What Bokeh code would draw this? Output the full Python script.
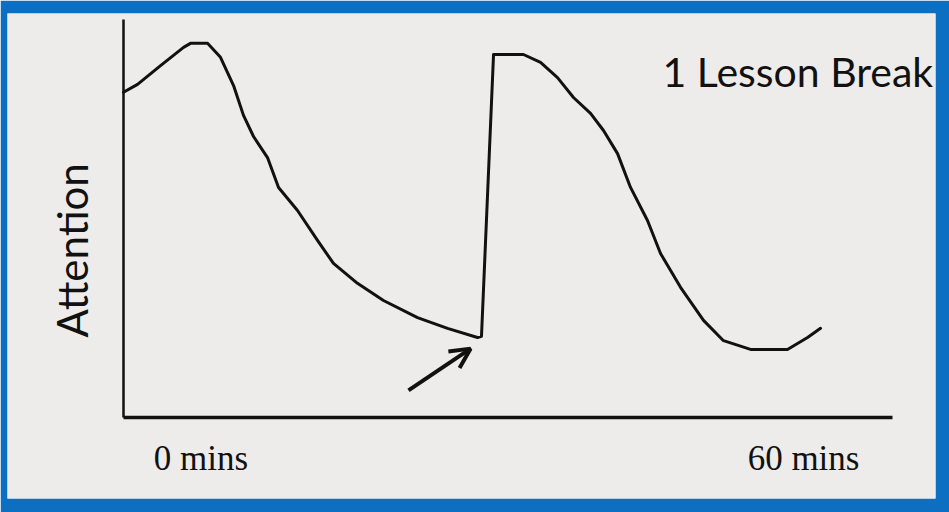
from bokeh.plotting import figure
from bokeh.models import (ColumnDataSource, Range1d, LinearAxis, FixedTicker,
                          Label, Arrow, OpenHead)
from bokeh.embed import file_html
from bokeh.resources import INLINE

# ---- data ----
minutes = [-7.72, -6.32, -4.03, -1.74, -1.05, 0.65, 1.94, 3.24, 4.23, 5.23,
           6.62, 7.72, 9.61, 11.60, 13.19, 15.58, 18.17, 21.56, 24.55, 27.53,
           27.93, 29.13, 32.11, 33.81, 35.50, 37.09, 38.79, 40.08, 41.48, 42.77,
           44.46, 45.76, 47.75, 50.04, 52.03, 54.72, 58.40, 60.40, 61.69]
attention = [81.7, 83.7, 88.4, 93.0, 94.0, 94.0, 90.5, 83.4, 75.9, 70.6,
             65.3, 57.8, 52.0, 44.5, 38.7, 33.7, 29.4, 25.1, 22.4, 20.1,
             20.4, 91.2, 91.2, 89.2, 85.4, 80.4, 76.4, 72.1, 66.3, 57.8,
             49.5, 41.2, 32.7, 24.4, 19.3, 17.1, 17.1, 20.1, 22.4]
tick_values = [0, 60]
tick_labels = ["0 mins", "60 mins"]
x_bounds = (-7.72, 68.86)
y_bounds = (0, 100)
y_label = "Attention"
title_text = "1 Lesson Break"
arrow_tail = [20.66, 6.8]
arrow_head = [26.84, 17.3]

BG = "#eeecea"
BLUE = "#0c6fc2"
INK = "#111111"

W, H = 949, 512
p = figure(width=W, height=H, output_backend="svg", toolbar_location=None,
           x_range=Range1d(-19.27, 73.14), y_range=Range1d(-20.35, 101.5),
           x_axis_type=None, y_axis_type=None,
           min_border_left=7, min_border_right=14,
           min_border_top=13, min_border_bottom=14)
p.background_fill_color = BG
p.border_fill_color = BLUE
p.outline_line_color = None
p.grid.visible = False

xaxis = LinearAxis(ticker=FixedTicker(ticks=tick_values),
                   major_label_overrides={v: t for v, t in zip(tick_values, tick_labels)},
                   fixed_location=y_bounds[0], bounds=x_bounds)
xaxis.axis_line_width = 3.5
xaxis.axis_line_color = INK
xaxis.major_tick_line_color = None
xaxis.minor_tick_line_color = None
xaxis.major_label_text_font = "Liberation Serif"
xaxis.major_label_text_font_size = "35px"
xaxis.major_label_text_color = INK
xaxis.major_label_standoff = 15
p.add_layout(xaxis, "below")

yaxis = LinearAxis(ticker=FixedTicker(ticks=[]),
                   fixed_location=x_bounds[0], bounds=y_bounds)
yaxis.axis_line_width = 2.5
yaxis.axis_line_color = INK
yaxis.major_tick_line_color = None
yaxis.minor_tick_line_color = None
yaxis.major_label_text_font_size = "0px"
p.add_layout(yaxis, "left")

src = ColumnDataSource(dict(x=minutes, y=attention))
p.line("x", "y", source=src, line_color=INK, line_width=3,
       line_join="round", line_cap="round")

p.add_layout(Arrow(x_start=arrow_tail[0], y_start=arrow_tail[1],
                   x_end=arrow_head[0], y_end=arrow_head[1],
                   line_color=INK, line_width=4,
                   end=OpenHead(size=20, line_width=4, line_color=INK)))

p.add_layout(Label(x=-12.8, y=42.0, text=y_label, angle=1.5708,
                   text_align="center", text_baseline="middle",
                   text_font="Lato", text_font_size="42px", text_color=INK))

p.add_layout(Label(x=45.96, y=87.0, text=title_text,
                   text_align="left", text_baseline="alphabetic",
                   text_font="Lato", text_font_size="41px", text_color=INK))

open("out.html", "w").write(file_html(p, INLINE))
